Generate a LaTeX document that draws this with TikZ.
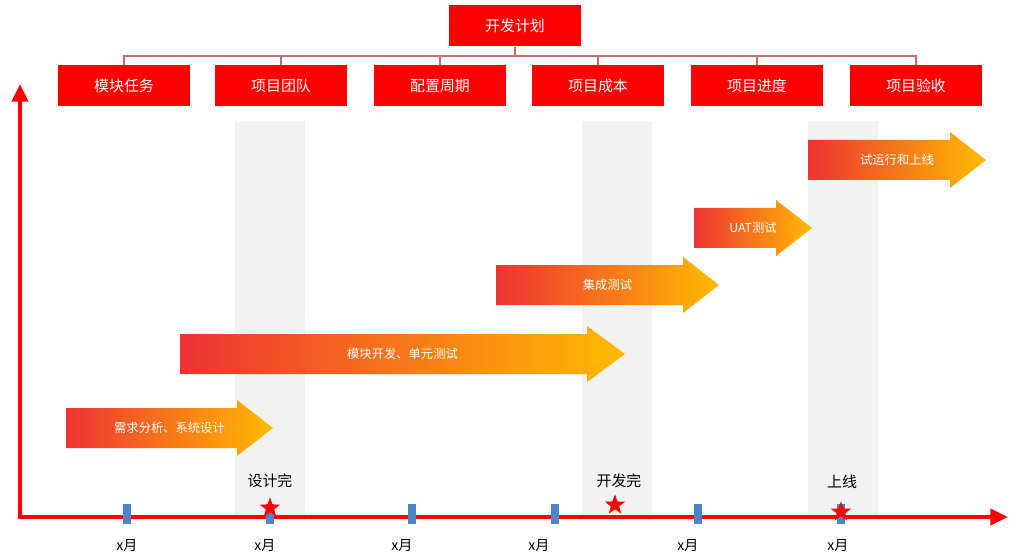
\documentclass[tikz,border=0pt]{standalone}
\usepackage{fontspec}
\setmainfont{Noto Sans CJK SC}
\usetikzlibrary{shapes.geometric, arrows.meta}
\definecolor{boxred}{HTML}{FF0000}
\definecolor{arrowL}{HTML}{EE3333}
\definecolor{arrowR}{HTML}{FFBB00}
\definecolor{tickblue}{HTML}{4A86C8}
\definecolor{band}{HTML}{F2F2F2}
\tikzset{
  plan/.style={rectangle, fill=boxred, text=white, minimum width=132*0.02cm, minimum height=41*0.02cm, font=\fontsize{8.5}{10}\selectfont},
  tree/.style={draw=boxred!70!black!60, line width=0.6pt},
  axis/.style={draw=red, line width=2.8pt, -{Triangle[length=10pt,width=9pt]}},
  tickbar/.style={fill=tickblue, minimum width=8*0.02cm, minimum height=20*0.02cm, inner sep=0pt},
  month/.style={font=\fontsize{8}{10}\selectfont},
  milestar/.style={star, star points=5, star point ratio=2.4, fill=red, minimum size=12pt, inner sep=0pt},
  mile/.style={font=\fontsize{8.5}{10}\selectfont},
  phase/.style={text=white, font=\fontsize{7}{9}\selectfont},
}
% phase arrow: x-left, x-head, x-tip, y-center, name, text
\newcommand{\phasearrow}[6]{%
  \shade[left color=arrowL, right color=arrowR]
    (#1,#4-20) -- (#2,#4-20) -- (#2,#4-28) -- (#3,#4) -- (#2,#4+28) -- (#2,#4+20) -- (#1,#4+20) -- cycle;
  \node (#5) [phase] at ({(#1+#3)/2},#4) {#6};}
\begin{document}
\begin{tikzpicture}[x=0.02cm, y=-0.02cm]
\useasboundingbox (0,0) rectangle (1024,557);

% gray bands
\fill[band] (235,121) rectangle (305,515);
\fill[band] (582,121) rectangle (652,515);
\fill[band] (808,121) rectangle (878,515);

% plan tree
\node (plan) [plan] at (515,26) {开发计划};
\node (task) [plan] at (124,86) {模块任务};
\node (team) [plan] at (281,86) {项目团队};
\node (cycle) [plan] at (440,86) {配置周期};
\node (cost) [plan] at (598,86) {项目成本};
\node (prog) [plan] at (757,86) {项目进度};
\node (accept) [plan] at (916,86) {项目验收};
\coordinate (bus) at (515,56);
\draw [tree] (plan.south) -- (bus);
\draw [tree] (task.north) |- (bus) -| (accept.north);
\foreach \n in {team,cycle,cost,prog}
  \draw [tree] (\n.north) -- (\n.north |- bus);

% axes
\coordinate (origin) at (20,517);
\coordinate (ytop) at (20,84);
\coordinate (xend) at (1008,517);
\draw [axis] (20,519) -- (ytop);
\draw [axis] (18,517) -- (xend);

% ticks and months
\foreach \x/\m [count=\i] in {127/127, 270/265, 412/402, 555/539, 698/688, 841/838} {
  \node (t\i) [tickbar] at (\x,514) {};
  \node (m\i) [month] at (\m,546) {x月};
}

% milestones
\node (s1) [milestar] at (270,508) {};
\node (s2) [milestar] at (615,505) {};
\node (s3) [milestar] at (841,512) {};
\node (l1) [mile] at (270,481) {设计完};
\node (l2) [mile] at (619,481) {开发完};
\node (l3) [mile] at (842,482) {上线};

% phases
\phasearrow{66}{237}{273}{428}{p1}{需求分析、系统设计}
\phasearrow{180}{587}{625}{354}{p2}{模块开发、单元测试}
\phasearrow{496}{683}{719}{285}{p3}{集成测试}
\phasearrow{694}{776}{812}{228}{p4}{UAT测试}
\phasearrow{808}{950}{986}{160}{p5}{试运行和上线}

\end{tikzpicture}
\end{document}
